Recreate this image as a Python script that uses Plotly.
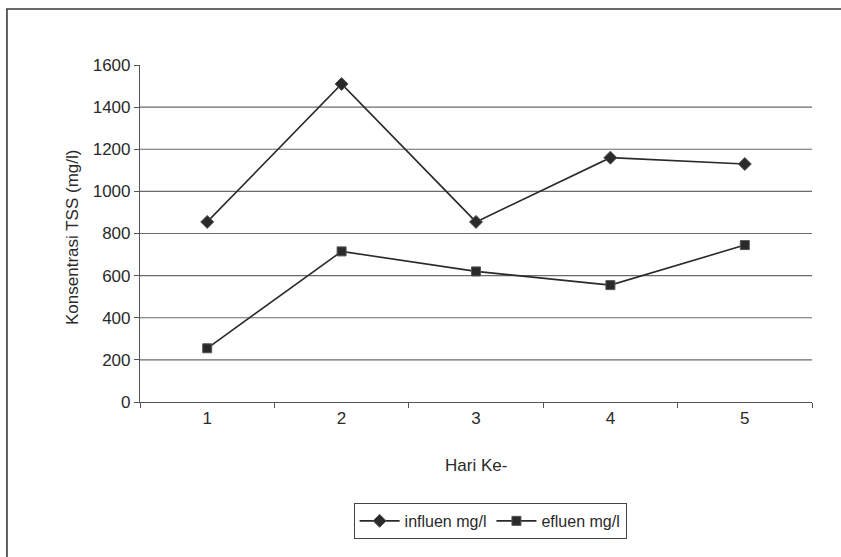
import plotly.graph_objects as go

# Daily TSS concentration, influent vs effluent
hari = ["1", "2", "3", "4", "5"]
influen = [855, 1510, 855, 1160, 1130]
efluen = [255, 715, 620, 555, 745]
y_ticks = [0, 200, 400, 600, 800, 1000, 1200, 1400, 1600]
grid_vals = [200, 400, 600, 800, 1000, 1200, 1400]

FONT = "Liberation Sans, Arial, sans-serif"
INK = "#2a2a2a"

fig = go.Figure()
fig.add_trace(go.Scatter(
    x=hari, y=influen, name="influen mg/l", mode="lines+markers",
    line=dict(color=INK, width=1.6),
    marker=dict(symbol="diamond", size=10, color=INK, line=dict(color="#555", width=1)),
))
fig.add_trace(go.Scatter(
    x=hari, y=efluen, name="efluen mg/l", mode="lines+markers",
    line=dict(color=INK, width=1.6),
    marker=dict(symbol="square", size=9, color=INK, line=dict(color="#555", width=1)),
))

# horizontal gridlines (none along the top edge)
for v in grid_vals:
    fig.add_shape(type="line", xref="paper", yref="y", x0=0, x1=1, y0=v, y1=v,
                  line=dict(color="#6a6a6a", width=1.2), layer="below")

# outer chart frame
fig.add_shape(type="rect", xref="paper", yref="paper",
              x0=-0.198, x1=1.2, y0=-1.0, y1=1.166,
              line=dict(color="#3a3a3a", width=1.6))

fig.update_layout(
    width=841, height=557,
    margin=dict(l=140, r=29, t=65, b=155),
    paper_bgcolor="white", plot_bgcolor="white",
    font=dict(family=FONT, size=17, color=INK),
    showlegend=True,
    legend=dict(
        orientation="h", x=0.521, xanchor="center", y=-0.353, yanchor="middle",
        bordercolor="#444", borderwidth=1, font=dict(size=16, family=FONT, color=INK),
        itemwidth=40, tracegroupgap=0,
    ),
    xaxis=dict(
        type="category", showgrid=False, zeroline=False,
        showline=True, linecolor="#555", linewidth=1.2,
        ticks="outside", tickson="boundaries", ticklen=5, tickcolor="#555",
        tickfont=dict(size=17), range=[-0.5, 4.5],
    ),
    yaxis=dict(
        range=[0, 1600], tickvals=y_ticks, showgrid=False, zeroline=False,
        showline=True, linecolor="#555", linewidth=1.2,
        ticks="outside", ticklen=5, tickcolor="#555", tickfont=dict(size=17),
    ),
    annotations=[
        dict(text="Konsentrasi TSS (mg/l)", xref="paper", yref="paper",
             x=(72 - 140) / 672, y=(402 - 238) / 337, textangle=-90,
             showarrow=False, xanchor="center", yanchor="middle",
             font=dict(size=17, family=FONT, color=INK)),
        dict(text="Hari Ke-", xref="paper", yref="paper",
             x=(476 - 140) / 672, y=(402 - 466) / 337,
             showarrow=False, xanchor="center", yanchor="middle",
             font=dict(size=17, family=FONT, color=INK)),
    ],
)

fig.write_html("out.html")
